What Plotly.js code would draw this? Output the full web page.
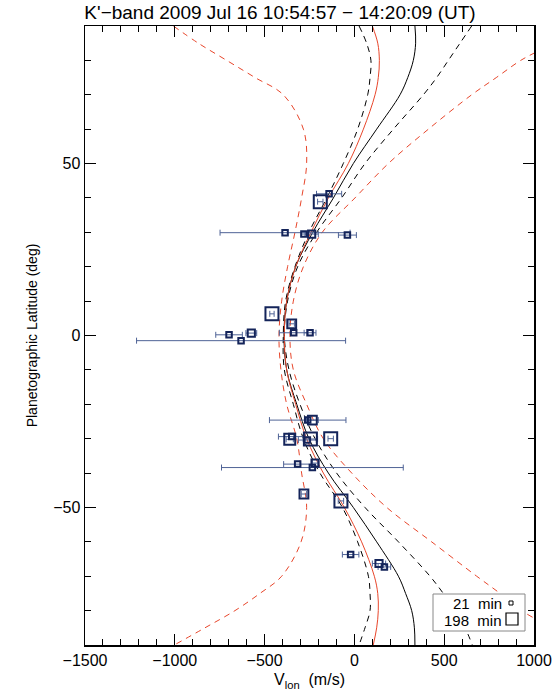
<!DOCTYPE html>
<html>
<head>
<meta charset="utf-8">
<script src="https://cdn.plot.ly/plotly-3.0.1.min.js"></script>
<style>
  html, body { margin: 0; padding: 0; background: #fff; }
  #graph { width: 560px; height: 700px; }
</style>
</head>
<body>
<div id="graph"></div>
<script>
// latitude grid for the model profiles (deg)
const latGrid = [90, 85, 80, 75, 70, 60, 50, 40, 30, 20, 10, 0, -10, -20, -30, -40, -50, -60, -70, -75, -80, -85, -90];

// model wind profiles, V_lon (m/s) at each latGrid value
const redLow    = [-1008, -869, -711, -553, -396, -284, -266, -294, -331, -372, -405, -420, -409, -377, -321, -294, -266, -297, -405, -526, -665, -832, -1003];
const blackLow  = [26, 68, 92, 87, 74, 18, -62, -154, -253, -331, -383, -396, -390, -340, -284, -192, -67, 18, 78, 87, 87, 59, 26];
const redMid    = [100, 130, 139, 133, 115, 50, -34, -145, -242, -327, -377, -390, -377, -327, -266, -173, -56, 40, 111, 130, 133, 124, 105];
const blackMid  = [337, 341, 328, 297, 254, 124, -6, -117, -232, -327, -377, -392, -377, -321, -253, -145, -6, 124, 245, 285, 319, 334, 337];
const blackHigh = [653, 588, 523, 458, 384, 217, 59, -71, -210, -316, -372, -390, -364, -303, -219, -99, 59, 245, 421, 495, 562, 616, 657];
const redHigh   = [1200, 1098, 926, 790, 653, 412, 189, 3, -179, -284, -340, -359, -340, -266, -173, -15, 180, 430, 681, 811, 931, 1090, 1200];

// measured cloud features
const ptVlon = [-141, -190, -386, -281, -238, -39, -459, -349, -698, -574, -338, -247, -631,
                -260, -234, -360, -349, -262, -245, -132, -316, -219, -234, -281, -75, -21, 137, 167];
const ptLat  = [41.2, 38.9, 29.9, 29.5, 29.5, 29.2, 6.3, 3.4, 0.2, 0.7, 0.8, 0.8, -1.5,
                -24.6, -24.6, -30.2, -29.4, -30.4, -30.1, -30.0, -37.4, -37.1, -38.4, -46.1, -48.1, -63.7, -66.3, -67.3];
const ptErr  = [70, 15, 362, 15, 37, 50, 12, 15, 74, 30, 80, 33, 582,
                213, 33, 20, 74, 50, 40, 15, 78, 15, 506, 15, 15, 46, 37, 35];
// integration time of each feature (min)
const ptMin  = [21, 198, 21, 21, 60, 21, 198, 100, 21, 60, 21, 21, 21,
                21, 100, 150, 21, 21, 198, 198, 21, 60, 21, 100, 198, 21, 60, 21];

const xTicks = [-1500, -1000, -500, 0, 500, 1000];
const yTicks = [-50, 0, 50];

const RED = '#e8462b';
const NAVY = '#14245a';
const ERRC = '#4f6396';
const FONT = 'Liberation Sans, Arial, sans-serif';

const sizeOf = (m) => 5.5 + 7.5 * (m - 21) / 177;

const curve = (v, color, dashed) => ({
    type: 'scatter',
    mode: 'lines',
    x: v,
    y: latGrid,
    line: { color: color, width: 1, dash: dashed ? '6px,5px' : 'solid', shape: 'spline', smoothing: 1 },
    hoverinfo: 'skip',
    showlegend: false,
});

const data = [
    curve(redLow, RED, true),
    curve(redHigh, RED, true),
    curve(blackLow, '#000', true),
    curve(blackHigh, '#000', true),
    curve(blackMid, '#000', false),
    curve(redMid, RED, false),
    {
        type: 'scatter',
        mode: 'markers',
        x: ptVlon,
        y: ptLat,
        error_x: { type: 'data', array: ptErr, visible: true, color: ERRC, thickness: 1, width: 3 },
        marker: {
            symbol: 'square-open',
            size: ptMin.map(sizeOf),
            opacity: 1,
            color: NAVY,
            line: { color: NAVY, width: 2 },
        },
        showlegend: false,
    },
];

// plot area in pixels (for the hand-made legend box)
const L = 85, R = 26, T = 26, B = 55;
const W = 560 - L - R, H = 700 - T - B;
const px = (x) => (x - L) / W;
const py = (y) => (700 - B - y) / H;

const layout = {
    width: 560,
    height: 700,
    margin: { l: L, r: R, t: T, b: B },
    paper_bgcolor: '#fff',
    plot_bgcolor: '#fff',
    font: { family: FONT, size: 16, color: '#000' },
    title: {
        text: "K'\u2212band 2009 Jul 16 10:54:57 \u2212 14:20:09 (UT)",
        font: { family: FONT, size: 19, color: '#000' },
        x: 0.5, xref: 'container', xanchor: 'center',
        y: 0.982, yref: 'container', yanchor: 'middle',
    },
    xaxis: {
        range: [-1500, 1000],
        tickmode: 'array', tickvals: xTicks,
        ticks: 'inside', ticklen: 11, tickwidth: 1, tickcolor: '#000',
        minor: { dtick: 100, ticks: 'inside', ticklen: 6, tickwidth: 1, tickcolor: '#000' },
        showline: true, linecolor: '#000', linewidth: 1.5, mirror: 'ticks',
        showgrid: false, zeroline: false,
        title: { text: 'V<sub>lon</sub>  (m/s)', font: { family: FONT, size: 16 }, standoff: 6 },
    },
    yaxis: {
        range: [-90, 90],
        tickmode: 'array', tickvals: yTicks,
        ticks: 'inside', ticklen: 11, tickwidth: 1, tickcolor: '#000',
        minor: { dtick: 10, ticks: 'inside', ticklen: 6, tickwidth: 1, tickcolor: '#000' },
        showline: true, linecolor: '#000', linewidth: 1.5, mirror: 'ticks',
        showgrid: false, zeroline: false,
        title: { text: 'Planetographic Latitude (deg)', font: { family: FONT, size: 14 }, standoff: 12 },
    },
    shapes: [
        // legend box
        { type: 'rect', xref: 'paper', yref: 'paper', x0: px(433), x1: px(525), y0: py(631), y1: py(594),
          line: { color: '#888', width: 1 }, fillcolor: '#fff' },
        { type: 'rect', xref: 'paper', yref: 'paper', x0: px(509), x1: px(513), y0: py(605), y1: py(601),
          line: { color: '#000', width: 1 } },
        { type: 'rect', xref: 'paper', yref: 'paper', x0: px(506), x1: px(518), y0: py(625), y1: py(613),
          line: { color: '#000', width: 1.2 } },
    ],
    annotations: [
        { xref: 'paper', yref: 'paper', x: px(503), y: py(603), xanchor: 'right', yanchor: 'middle',
          text: '21  min', showarrow: false, font: { family: FONT, size: 15 }, borderpad: 0 },
        { xref: 'paper', yref: 'paper', x: px(503), y: py(620), xanchor: 'right', yanchor: 'middle',
          text: '198  min', showarrow: false, font: { family: FONT, size: 15 }, borderpad: 0 },
    ],
};

Plotly.newPlot('graph', data, layout, { staticPlot: true, displayModeBar: false });
</script>
</body>
</html>
